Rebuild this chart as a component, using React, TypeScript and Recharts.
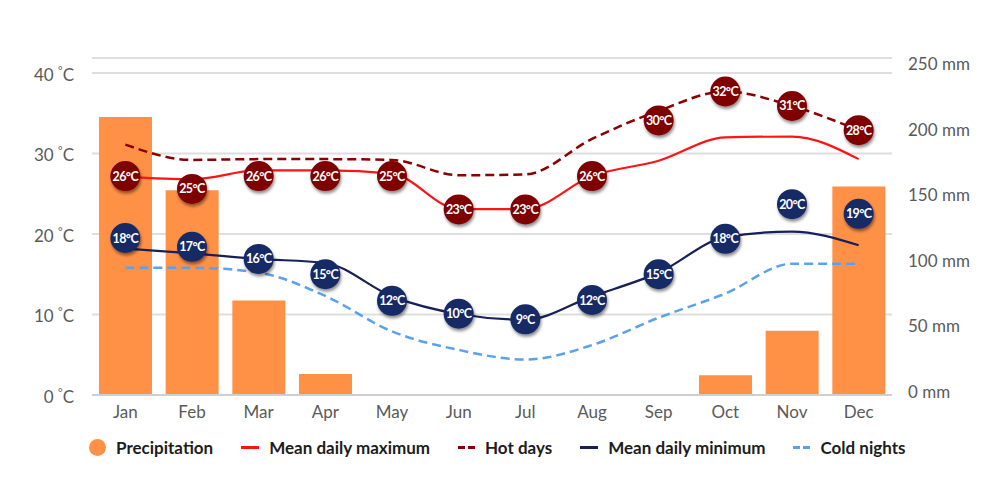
import React from 'react';
import { ComposedChart, Bar, Line, XAxis, YAxis, CartesianGrid } from 'recharts';

const months = ['Jan', 'Feb', 'Mar', 'Apr', 'May', 'Jun', 'Jul', 'Aug', 'Sep', 'Oct', 'Nov', 'Dec'];
const precipitation = [212, 156, 72, 16, 0, 0, 0, 0, 0, 15, 49, 159];
const meanMax = [27.1, 26.8, 27.9, 27.9, 27.5, 23.1, 23.1, 27.2, 29.1, 32.0, 32.1, 29.3];
const hotDays = [31.1, 29.2, 29.3, 29.3, 29.2, 27.3, 27.4, 31.8, 35.3, 37.7, 35.9, 32.9];
const meanMin = [18.2, 17.6, 16.9, 16.4, 12.25, 10.06, 9.35, 12.25, 15.2, 19.6, 20.3, 18.6];
const coldNights = [15.8, 15.8, 15.2, 12.3, 7.9, 5.6, 4.4, 6.2, 9.6, 12.6, 16.3, 16.3];

// where the round badges sit, and what they say
const warmBadgePos = [27.2, 25.6, 27.2, 27.2, 27.2, 23.05, 23.05, 27.2, 34.1, 37.7, 35.9, 32.9];
const warmBadgeText = [26, 25, 26, 26, 25, 23, 23, 26, 30, 32, 31, 28];
const coolBadgePos = [19.5, 18.4, 16.9, 15.0, 11.7, 10.1, 9.4, 11.8, 15.0, 19.4, 23.7, 22.5];
const coolBadgeText = [18, 17, 16, 15, 12, 10, 9, 12, 15, 18, 20, 19];

const tempTicks = [0, 10, 20, 30, 40];
const rainTicks = [0, 50, 100, 150, 200, 250];

const legendItems = [
    { label: 'Precipitation', color: '#FF9147', kind: 'dot' },
    { label: 'Mean daily maximum', color: '#FF1414', kind: 'line' },
    { label: 'Hot days', color: '#8B0000', kind: 'dash' },
    { label: 'Mean daily minimum', color: '#172058', kind: 'line' },
    { label: 'Cold nights', color: '#5AA2EE', kind: 'dash' },
];

const data = months.map((m, i) => ({
    month: m,
    precipitation: precipitation[i],
    meanMax: meanMax[i],
    hotDays: hotDays[i],
    meanMin: meanMin[i],
    coldNights: coldNights[i],
    warmBadge: warmBadgePos[i],
    coolBadge: coolBadgePos[i],
}));

const FONT = 'Lato, "Open Sans", sans-serif';

const makeBadge = (labels: number[], fill: string) => (props: any) => {
    const { cx, cy, index } = props;
    if (cx == null || cy == null) return <g key={`b-${index}`} />;
    return (
        <g key={`b-${fill}-${index}`}>
            <circle cx={cx} cy={cy} r={15} fill={fill} filter="url(#badgeShadow)" />
            <text
                x={cx}
                y={cy}
                dy={4.5}
                textAnchor="middle"
                fill="#fff"
                fontSize={12.5}
                fontWeight={700}
                fontFamily={FONT}
                letterSpacing={-0.6}
            >
                {labels[index]}°C
            </text>
        </g>
    );
};

const TempTick = (props: any) => {
    const { x, y, payload } = props;
    return (
        <text x={x} y={y} dy={8} textAnchor="end" fill="#5a5a5a" fontSize={17} fontFamily={FONT}>
            {payload.value}{' '}
            <tspan fontSize={11} dy={-6}>°</tspan>
            <tspan dy={6}>C</tspan>
        </text>
    );
};

const RainTick = (props: any) => {
    const { x, y, payload } = props;
    return (
        <text x={x} y={y} dy={3} textAnchor="start" fill="#5a5a5a" fontSize={17} fontFamily={FONT}>
            {payload.value} mm
        </text>
    );
};

function LegendMarker({ kind, color }: { kind: string; color: string }) {
    if (kind === 'dot') {
        return <span style={{ width: 17, height: 17, borderRadius: 9, background: color, display: 'inline-block' }} />;
    }
    if (kind === 'dash') {
        return (
            <span style={{ display: 'inline-flex', gap: 3 }}>
                <span style={{ width: 7, height: 3, background: color }} />
                <span style={{ width: 7, height: 3, background: color }} />
            </span>
        );
    }
    return <span style={{ width: 18, height: 3, background: color, display: 'inline-block' }} />;
}

export default function App() {
    return (
        <div style={{ position: 'absolute', left: 0, top: 0, width: 1000, height: 504, background: '#fff' }}>
            <svg width={0} height={0} style={{ position: 'absolute' }}>
                <defs>
                    <filter id="badgeShadow" x="-50%" y="-50%" width="200%" height="200%">
                        <feDropShadow dx={1} dy={2.5} stdDeviation={1.8} floodColor="#000" floodOpacity={0.45} />
                    </filter>
                </defs>
            </svg>
            <ComposedChart width={1000} height={504} data={data} margin={{ top: 58, right: 0, bottom: 79, left: 0 }}>
                <CartesianGrid yAxisId="temp" vertical={false} stroke="#dedede" strokeWidth={2} />
                <XAxis
                    dataKey="month"
                    height={30}
                    axisLine={{ stroke: '#cfcfcf', strokeWidth: 2 }}
                    tickLine={false}
                    tickMargin={5}
                    tick={{ fill: '#5a5a5a', fontSize: 17, fontFamily: FONT }}
                />
                <YAxis
                    yAxisId="temp"
                    width={92}
                    domain={[0, 41.86]}
                    ticks={tempTicks}
                    axisLine={false}
                    tickLine={false}
                    tickMargin={12}
                    tick={<TempTick />}
                />
                <YAxis
                    yAxisId="rain"
                    orientation="right"
                    width={108}
                    domain={[0, 256.9]}
                    ticks={rainTicks}
                    axisLine={false}
                    tickLine={false}
                    tickMargin={10}
                    tick={<RainTick />}
                />
                <Bar yAxisId="rain" dataKey="precipitation" fill="#FF9147" barSize={53} isAnimationActive={false} />
                <Line yAxisId="temp" type="monotone" dataKey="coldNights" stroke="#5AA2EE" strokeWidth={2.5} strokeDasharray="9 5" dot={false} activeDot={false} isAnimationActive={false} />
                <Line yAxisId="temp" type="monotone" dataKey="meanMin" stroke="#172058" strokeWidth={2.2} dot={false} activeDot={false} isAnimationActive={false} />
                <Line yAxisId="temp" type="monotone" dataKey="meanMax" stroke="#FF1414" strokeWidth={2.2} dot={false} activeDot={false} isAnimationActive={false} />
                <Line yAxisId="temp" type="monotone" dataKey="hotDays" stroke="#8B0000" strokeWidth={2.5} strokeDasharray="9 5" dot={false} activeDot={false} isAnimationActive={false} />
                <Line yAxisId="temp" dataKey="coolBadge" stroke="none" dot={makeBadge(coolBadgeText, '#172A66')} activeDot={false} isAnimationActive={false} />
                <Line yAxisId="temp" dataKey="warmBadge" stroke="none" dot={makeBadge(warmBadgeText, '#7F0000')} activeDot={false} isAnimationActive={false} />
            </ComposedChart>
            <div
                style={{
                    position: 'absolute',
                    left: 89,
                    top: 437,
                    display: 'flex',
                    alignItems: 'center',
                    gap: 28,
                    fontFamily: FONT,
                    fontWeight: 700,
                    fontSize: 17,
                    color: '#1c1c1c',
                }}
            >
                {legendItems.map((item) => (
                    <div key={item.label} style={{ display: 'flex', alignItems: 'center', gap: 10 }}>
                        <LegendMarker kind={item.kind} color={item.color} />
                        <span>{item.label}</span>
                    </div>
                ))}
            </div>
        </div>
    );
}
